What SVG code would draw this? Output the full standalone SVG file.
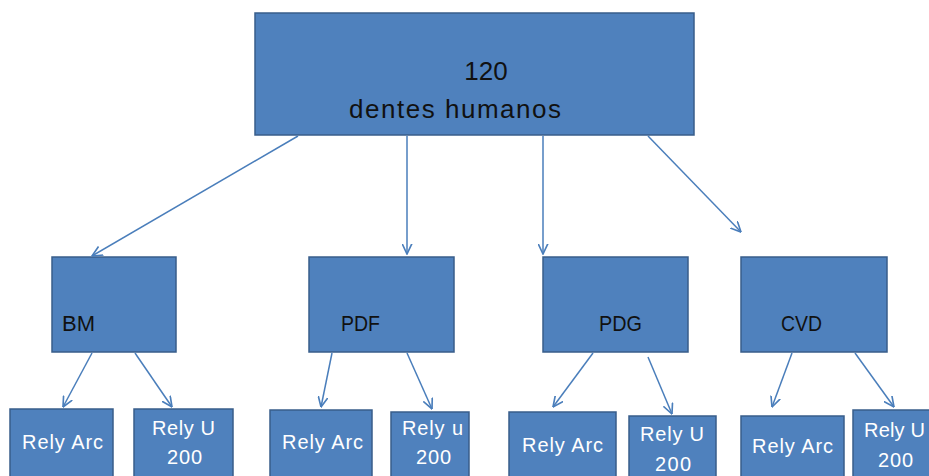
<svg xmlns="http://www.w3.org/2000/svg" width="929" height="476" viewBox="0 0 929 476">
<style>
.box{fill:#4F81BD;stroke:#385D8A;stroke-width:1.5}
.dark{font-family:"Liberation Sans",Arial,sans-serif;fill:#111;}
.light{font-family:"Liberation Sans",Arial,sans-serif;fill:#fff;font-size:20px}
.conn line{stroke:#4A7EBB;stroke-width:1.5;marker-end:url(#arr)}
</style>
<defs>
<marker id="arr" markerUnits="userSpaceOnUse" viewBox="0 0 10 10" refX="9.5" refY="5" markerWidth="11" markerHeight="11" orient="auto">
<path d="M0,0.5 L9.5,5 L0,9.5" fill="none" stroke="#4A7EBB" stroke-width="1.5"/>
</marker>
</defs>
<rect width="929" height="476" fill="#fff"/>
<g id="root">
<rect class="box" x="255" y="13" width="439" height="122"/>
<text class="dark" x="486" y="80" font-size="26" text-anchor="middle">120</text>
<text class="dark" x="349" y="118" font-size="26" textLength="212" lengthAdjust="spacing">dentes humanos</text>
</g>
<g id="bm">
<rect class="box" x="52" y="257" width="124" height="95"/>
<text class="dark" x="62" y="331" font-size="22">BM</text>
</g>
<g id="pdf">
<rect class="box" x="309" y="257" width="145" height="95"/>
<text class="dark" x="341" y="331" font-size="22" textLength="39" lengthAdjust="spacingAndGlyphs">PDF</text>
</g>
<g id="pdg">
<rect class="box" x="543" y="257" width="145" height="95"/>
<text class="dark" x="599" y="331" font-size="22" textLength="43" lengthAdjust="spacingAndGlyphs">PDG</text>
</g>
<g id="cvd">
<rect class="box" x="741" y="257" width="146" height="95"/>
<text class="dark" x="781" y="331" font-size="22" textLength="41" lengthAdjust="spacingAndGlyphs">CVD</text>
</g>
<g id="bm-arc">
<rect class="box" x="10" y="409" width="103" height="80"/>
<text class="light" x="22" y="449" textLength="81" lengthAdjust="spacing">Rely Arc</text>
</g>
<g id="bm-u200">
<rect class="box" x="134" y="409" width="99" height="80"/>
<text class="light" x="152" y="435" textLength="63" lengthAdjust="spacing">Rely U</text>
<text class="light" x="167" y="464" textLength="35" lengthAdjust="spacing">200</text>
</g>
<g id="pdf-arc">
<rect class="box" x="270" y="410" width="102" height="80"/>
<text class="light" x="282" y="449" textLength="81" lengthAdjust="spacing">Rely Arc</text>
</g>
<g id="pdf-u200">
<rect class="box" x="391" y="412" width="78" height="80"/>
<text class="light" x="402" y="435" textLength="61" lengthAdjust="spacing">Rely u</text>
<text class="light" x="416" y="464" textLength="35" lengthAdjust="spacing">200</text>
</g>
<g id="pdg-arc">
<rect class="box" x="509" y="412" width="107" height="80"/>
<text class="light" x="522" y="452" textLength="81" lengthAdjust="spacing">Rely Arc</text>
</g>
<g id="pdg-u200">
<rect class="box" x="629" y="416" width="87" height="80"/>
<text class="light" x="640" y="441" textLength="64" lengthAdjust="spacing">Rely U</text>
<text class="light" x="655" y="471" textLength="36" lengthAdjust="spacing">200</text>
</g>
<g id="cvd-arc">
<rect class="box" x="741" y="416" width="103" height="80"/>
<text class="light" x="752" y="453" textLength="81" lengthAdjust="spacing">Rely Arc</text>
</g>
<g id="cvd-u200">
<rect class="box" x="853" y="410" width="85" height="80"/>
<text class="light" x="864" y="437" textLength="61" lengthAdjust="spacing">Rely U</text>
<text class="light" x="878" y="467" textLength="35" lengthAdjust="spacing">200</text>
</g>
<g id="connectors" class="conn">
<line x1="298" y1="136" x2="92" y2="256"/>
<line x1="407" y1="136" x2="407" y2="254"/>
<line x1="543" y1="136" x2="543" y2="254"/>
<line x1="648" y1="136" x2="741" y2="232"/>
<line x1="92" y1="353" x2="63" y2="407"/>
<line x1="135" y1="353" x2="172" y2="407"/>
<line x1="332" y1="353" x2="321" y2="407"/>
<line x1="407" y1="353" x2="432" y2="409"/>
<line x1="593" y1="353" x2="553" y2="407"/>
<line x1="648" y1="357" x2="672" y2="414"/>
<line x1="792" y1="353" x2="772" y2="407"/>
<line x1="855" y1="353" x2="894" y2="407"/>
</g>
</svg>
